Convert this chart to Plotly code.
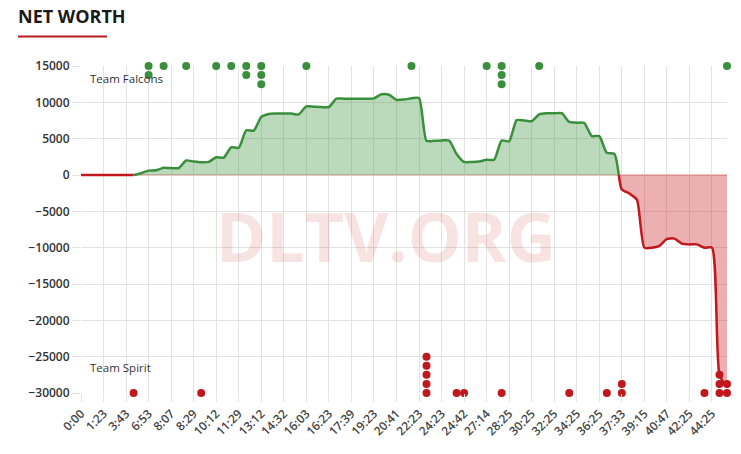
"""Net worth chart: Team Falcons vs Team Spirit, gold difference over game time."""
import plotly.graph_objects as go

# x tick labels (one label every third sample)
tick_labels = [
    "0:00", "1:23", "3:43", "6:53", "8:07", "8:29", "10:12", "11:29", "13:12",
    "14:32", "16:03", "16:23", "17:39", "19:23", "20:41", "22:23", "24:23",
    "24:42", "27:14", "28:25", "30:25", "32:25", "34:25", "36:25", "37:33",
    "39:15", "40:47", "42:25", "44:25",
]

# net worth difference (positive = Team Falcons ahead)
net_worth = [
    0, 0, 0, 0, 0, 0, 0, 0, 250, 600,
    650, 1000, 950, 950, 2000, 1850, 1750, 1800, 2450, 2400,
    3800, 3750, 6150, 6100, 8000, 8400, 8450, 8450, 8450, 8350,
    9450, 9400, 9350, 9350, 10500, 10500, 10500, 10500, 10500, 10550,
    11100, 11050, 10350, 10400, 10550, 10600, 4700, 4700, 4750, 4750,
    2900, 1800, 1800, 1850, 2100, 2100, 4750, 4650, 7550, 7500,
    7400, 8350, 8500, 8500, 8500, 7300, 7200, 7150, 5350, 5350,
    3050, 2900, -2000, -2550, -3400, -10000, -10000, -9750, -8800, -8750,
    -9450, -9550, -9550, -10000, -10000, -27500, -29200,
]

# sample index of each event (repeated index = stacked dots)
falcons_events = [9, 9, 11, 14, 18, 20, 22, 22, 24, 24, 24, 30, 44, 54, 56, 56, 56, 61, 86]
spirit_events = [7, 16, 46, 46, 46, 46, 46, 50, 51, 56, 65, 70, 72, 72, 83, 85, 85, 85, 86, 86]

GREEN = "#3a8f3c"
RED = "#c0181d"
GREEN_FILL = "rgba(58,150,60,0.35)"
RED_FILL = "rgba(200,30,35,0.35)"
Y_MIN, Y_MAX, STACK = -30000, 15000, 1250

# page body has an 8px margin, so the figure is a bit smaller than the window
OFF = 8
W, H = 741 - OFF, 454 - OFF
PL, PR, PT, PB = 81 - OFF, 727 - OFF, 66 - OFF, 393 - OFF  # plot area in figure px
PW, PH = PR - PL, PB - PT

x_idx = list(range(len(net_worth)))


def sign_segments(xs, ys):
    """split the series into runs of one sign, adding zero crossings"""
    segs = []
    cur, cur_sign = [], None
    for i, (x, v) in enumerate(zip(xs, ys)):
        nxt = ys[i + 1] if i + 1 < len(ys) else 0
        s = 1 if (v > 0 or (v == 0 and nxt > 0)) else -1
        if cur_sign is not None and s != cur_sign:
            p = ys[i - 1]
            if p * v < 0:
                xc = xs[i - 1] + p / (p - v)
                cur.append((xc, 0))
                segs.append((cur_sign, cur))
                cur = [(xc, 0)]
            else:
                cur.append((x, v))
                segs.append((cur_sign, cur))
                cur = [(x, v)]
                cur_sign = s
                continue
        cur_sign = s
        cur.append((x, v))
    segs.append((cur_sign, cur))
    return segs


def stack_events(events, base, step):
    seen = {}
    ys = []
    for e in events:
        k = seen.get(e, 0)
        seen[e] = k + 1
        ys.append(base + step * k)
    return events, ys


def px_x(x):
    return (x - OFF - PL) / PW


def px_y(y):
    return 1 - (y - OFF - PT) / PH


fig = go.Figure()

for sgn, pts in sign_segments(x_idx, net_worth):
    fig.add_trace(
        go.Scatter(
            x=[p[0] for p in pts],
            y=[p[1] for p in pts],
            mode="lines",
            line=dict(color=GREEN if sgn > 0 else RED, width=2.5, shape="spline", smoothing=0.6),
            fill="tozeroy",
            fillcolor=GREEN_FILL if sgn > 0 else RED_FILL,
            hoverinfo="skip",
            showlegend=False,
        )
    )

fx, fy = stack_events(falcons_events, Y_MAX, -STACK)
sx, sy = stack_events(spirit_events, Y_MIN, STACK)
fig.add_trace(go.Scatter(x=fx, y=fy, mode="markers", marker=dict(color=GREEN, size=8),
                         cliponaxis=False, showlegend=False, name="Team Falcons"))
fig.add_trace(go.Scatter(x=sx, y=sy, mode="markers", marker=dict(color=RED, size=8),
                         cliponaxis=False, showlegend=False, name="Team Spirit"))

fig.update_layout(
    width=W,
    height=H,
    margin=dict(l=PL, r=W - PR, t=PT, b=H - PB),
    paper_bgcolor="white",
    plot_bgcolor="white",
    font=dict(family="Open Sans", color="#333"),
    title=dict(
        text="<b>NET WORTH</b>",
        x=(18 - OFF) / W,
        xanchor="left",
        y=1 - (17 - OFF) / H,
        yanchor="middle",
        font=dict(size=18, color="#1a1a1a", family="Open Sans"),
    ),
    xaxis=dict(
        range=[0, len(net_worth) - 1],
        tickvals=x_idx[::3][: len(tick_labels)],
        ticktext=tick_labels,
        tickangle=-45,
        tickfont=dict(size=12, color="#444", weight=600),
        showgrid=True,
        gridcolor="#e2e2e2",
        ticks="outside",
        ticklen=8,
        tickcolor="#e2e2e2",
        zeroline=False,
        showline=False,
        automargin=False,
    ),
    yaxis=dict(
        range=[Y_MIN, Y_MAX],
        dtick=5000,
        tickformat="d",
        tickfont=dict(size=12, color="#333", weight=600),
        showgrid=True,
        gridcolor="#e2e2e2",
        ticks="outside",
        ticklen=8,
        tickcolor="#e2e2e2",
        zeroline=True,
        zerolinecolor="#e8c6c6",
        zerolinewidth=2,
        showline=False,
        automargin=False,
    ),
    shapes=[
        dict(type="line", xref="paper", yref="paper",
             x0=px_x(18), x1=px_x(107), y0=px_y(36.5), y1=px_y(36.5),
             line=dict(color="#b71c1c", width=2)),
    ],
    annotations=[
        dict(text="<b>DLTV.ORG</b>", xref="paper", yref="paper",
             x=px_x(386), y=px_y(236),
             showarrow=False, font=dict(size=68, color="rgba(200,40,40,0.13)", family="Open Sans")),
        dict(text="Team Falcons", xref="paper", yref="paper",
             x=px_x(88), y=px_y(78), xanchor="left", yanchor="middle",
             showarrow=False, font=dict(size=11.5, color="#333")),
        dict(text="Team Spirit", xref="paper", yref="paper",
             x=px_x(88), y=px_y(367), xanchor="left", yanchor="middle",
             showarrow=False, font=dict(size=11.5, color="#333")),
    ],
)

fig.write_html("out.html")
